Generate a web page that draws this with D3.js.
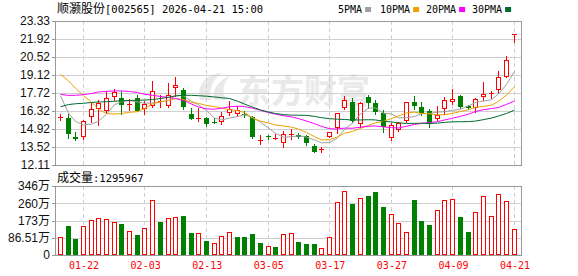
<!DOCTYPE html>
<html><head><meta charset="utf-8">
<script src="https://cdn.jsdelivr.net/npm/d3@7"></script>
<style>body{margin:0;background:#fff;}svg{display:block;}</style>
</head><body>
<svg id="c" width="578" height="276"></svg>
<script>
const title = "顺灏股份";
const titleCode = "[002565] 2026-04-21 15:00";
const volTitle = "成交量";
const volTitleValue = ":1295967";
const maNames = ["5PMA", "10PMA", "20PMA", "30PMA"];
const dates = ["01-19","01-20","01-21","01-22","01-23","01-26","01-27","01-28","01-29","01-30",
  "02-02","02-03","02-04","02-05","02-06","02-09","02-10","02-11","02-12","02-13",
  "02-24","02-25","02-26","02-27","03-02","03-03","03-04","03-05","03-06","03-09",
  "03-10","03-11","03-12","03-13","03-16","03-17","03-18","03-19","03-20","03-23",
  "03-24","03-25","03-26","03-27","03-30","03-31","04-01","04-02","04-03","04-07",
  "04-08","04-09","04-10","04-13","04-14","04-15","04-16","04-17","04-20","04-21"];
const tickDates = ["01-22","02-03","02-13","03-05","03-17","03-27","04-09","04-21"];
const open  = [15.80,15.75,14.31,14.31,15.83,16.50,16.34,17.38,17.31,16.79,
  17.31,16.47,16.73,17.08,16.73,18.09,17.95,16.06,15.75,15.75,
  15.48,15.48,16.14,16.06,16.08,15.83,13.98,14.34,14.23,13.86,
  14.49,14.41,14.34,13.59,13.33,14.31,15.02,16.53,17.04,15.27,
  17.41,16.92,16.16,14.21,14.81,15.56,17.04,16.63,16.32,15.67,
  16.45,17.04,17.51,16.71,16.53,17.37,17.70,17.95,18.99,22.32];
const high  = [16.08,16.06,14.70,15.62,16.92,17.17,17.88,18.01,17.85,17.29,
  17.56,17.10,18.62,17.56,18.50,18.97,18.11,16.53,16.59,15.87,
  15.80,16.24,17.06,16.67,16.32,15.93,14.41,14.47,14.53,14.76,
  14.88,14.64,14.45,13.73,13.54,14.70,16.16,17.49,17.33,17.04,
  17.56,17.17,16.36,15.42,15.48,17.04,17.49,16.98,16.51,16.67,
  17.43,18.03,17.56,16.82,17.31,18.60,17.91,19.43,20.60,22.32];
const low   = [15.62,14.24,14.06,14.16,15.48,15.23,16.14,17.17,16.11,16.40,
  16.29,16.06,16.63,16.63,16.65,17.49,16.47,15.72,15.54,15.15,
  15.38,15.34,15.97,15.93,15.85,14.24,13.71,14.14,14.10,13.54,
  14.14,14.25,13.67,13.10,13.10,14.30,14.58,16.51,15.46,15.09,
  16.53,16.08,14.70,14.06,14.76,15.48,16.47,16.01,15.07,15.62,
  16.08,16.86,16.59,16.47,16.24,17.14,17.33,17.72,18.97,21.72];
const close = [15.83,14.53,14.16,15.51,16.45,16.94,17.31,17.82,16.75,16.86,
  16.34,16.86,17.88,17.11,17.54,18.34,16.63,15.72,15.80,15.27,
  15.42,15.89,16.45,16.40,15.97,14.33,14.03,14.27,14.25,14.50,
  14.53,14.33,13.80,13.16,13.36,14.66,16.14,17.17,15.51,16.96,
  16.92,16.26,15.09,15.23,15.42,17.00,16.71,16.16,15.32,15.97,
  17.15,17.23,16.65,16.59,17.29,17.68,17.74,18.94,20.29,22.32];
// volume in 万手
const volume = [89,146,79,144.5,175,185,180,165,156,119,
  99,133,275,166,185,190,196,111,109,70,
  59,94,114,89,89,104,60,44,39,104,
  109,65,54,54,37,88,264,319,255,284,
  297,316,240,205,160,114,275,170,150,225,
  275,280,190,116,215,296,195,306,270,129.5967];
const ma5Head  = [17.49,16.16,15.50,15.23];
const ma10Head = [19.18,18.66,18.09,17.51,17.02,16.45,16.12,16.08,16.12];
const ma20Head = [17.62,17.53,17.54,17.59,17.68,17.80,17.85,17.88,17.88,17.84,
  17.76,17.62,17.54,17.45,17.37,17.29,17.14,16.86,16.63];
const ma30Head = [16.65,16.82,16.88,16.92,16.98,17.02,17.04,17.08,17.11,17.14,
  17.15,17.17,17.21,17.29,17.39,17.49,17.54,17.54,17.51,17.47,
  17.41,17.35,17.29,17.08,16.86,16.62,16.40,16.24,16.12];
const priceTicks = [12.11,13.5125,14.915,16.3175,17.72,19.1225,20.525,21.9275,23.33];
const priceTickLabels = ["12.11","13.52","14.92","16.32","17.72","19.12","20.52","21.92","23.33"];
const volTicks = [0,86.51,173.02,259.53,346.04];
const volTickLabels = ["0","86.51万","173万","260万","346万"];

const RED = "#ff0000", GREEN = "#008000";
const maColors = ["#a0a0a0", "#f0a000", "#ff00ff", "#006a30"];
const L = 55, R = 522, PT = 21, PB = 165, VT = 186, VB = 255;
const n = close.length;

const svg = d3.select("#c");
const x = d3.scaleBand().domain(d3.range(n)).range([56.5, 518]);
const px = i => Math.round(x(i) + x.bandwidth() / 2 - 0.5);
const y = d3.scaleLinear().domain([priceTicks[0], priceTicks[priceTicks.length - 1]]).range([PB, PT]);
const vy = d3.scaleLinear().domain([0, volTicks[volTicks.length - 1]]).range([VB, VT]);

// watermark
svg.append("text").attr("x", 238).attr("y", 103)
  .attr("font-family", "Noto Sans CJK SC").attr("font-size", 33).attr("font-weight", "bold")
  .attr("fill", "#e9e9e9").text("东方财富");
svg.append("path")
  .attr("d", "M200,100 C196,86 206,74 222,73 C212,80 208,90 212,100 Z M214,100 C212,90 218,80 230,76 C222,84 222,94 226,100 Z")
  .attr("fill", "#e9e9e9");

// grids
const grid = svg.append("g").attr("shape-rendering", "crispEdges");
priceTicks.slice(1, -1).forEach(v => {
  const yy = Math.round(y(v)) + 0.5;
  grid.append("line").attr("x1", L).attr("x2", R).attr("y1", yy).attr("y2", yy).attr("stroke", "#cfcfcf");
});
volTicks.slice(1, -1).forEach(v => {
  const yy = Math.round(vy(v)) + 0.5;
  grid.append("line").attr("x1", L).attr("x2", R).attr("y1", yy).attr("y2", yy).attr("stroke", "#cfcfcf");
});
tickDates.forEach(d => {
  const i = dates.indexOf(d), xx = px(i) + 0.5;
  [[PT, PB], [VT, VB]].forEach(([a, b]) => grid.append("line").attr("x1", xx).attr("x2", xx)
    .attr("y1", a).attr("y2", b).attr("stroke", "#cfcfcf").attr("stroke-dasharray", "4,3"));
});

// frames
[[PT, PB], [VT, VB]].forEach(([a, b]) => svg.append("rect").attr("x", L + 0.5).attr("y", a + 0.5)
  .attr("width", R - L - 1).attr("height", b - a).attr("fill", "none").attr("stroke", "#999")
  .attr("shape-rendering", "crispEdges"));

// axes
const yAxis = svg.append("g").attr("transform", `translate(${L},0)`)
  .call(d3.axisLeft(y).tickValues(priceTicks).tickSize(3).tickPadding(2).tickFormat((d, i) => priceTickLabels[i]));
const vAxis = svg.append("g").attr("transform", `translate(${L},0)`)
  .call(d3.axisLeft(vy).tickValues(volTicks).tickSize(3).tickPadding(2).tickFormat((d, i) => volTickLabels[i]));
[yAxis, vAxis].forEach(g => {
  g.select(".domain").remove();
  g.selectAll(".tick line").attr("stroke", "#999").attr("shape-rendering", "crispEdges");
  g.selectAll("text").attr("font-family", "Liberation Sans, Noto Sans CJK SC").attr("font-size", 12).attr("fill", "#111");
});
const xAxis = svg.append("g").attr("transform", `translate(0,${VB})`)
  .call(d3.axisBottom(d3.scalePoint().domain(dates).range([px(0) + 0.5, px(n - 1) + 0.5]))
    .tickValues(tickDates).tickSize(0).tickPadding(7));
xAxis.select(".domain").remove();
xAxis.selectAll("text").attr("font-family", "DejaVu Sans Mono").attr("font-size", 10).attr("fill", RED);

// volume bars
const vg = svg.append("g").attr("shape-rendering", "crispEdges");
volume.forEach((v, i) => {
  const up = i === 0 ? close[i] >= open[i] : close[i] >= close[i - 1];
  const p = px(i), top = Math.round(vy(v));
  if (up) vg.append("rect").attr("x", p - 1.5).attr("y", top + 0.5).attr("width", 4)
    .attr("height", VB - top - 1).attr("fill", "#fff").attr("stroke", RED);
  else vg.append("rect").attr("x", p - 2).attr("y", top).attr("width", 5)
    .attr("height", VB - top).attr("fill", GREEN);
});

// moving averages
function ma(head, k) {
  return close.map((c, i) => i < head.length ? head[i] : d3.mean(close.slice(i - k + 1, i + 1)));
}
const mas = [ma(ma5Head, 5), ma(ma10Head, 10), ma(ma20Head, 20), ma(ma30Head, 30)];

// candles
const cg = svg.append("g").attr("shape-rendering", "crispEdges");
close.forEach((c, i) => {
  const o = open[i], up = c >= o, col = up ? RED : GREEN, p = px(i);
  const yt = Math.round(y(Math.max(o, c))), yb = Math.round(y(Math.min(o, c)));
  cg.append("line").attr("x1", p + 0.5).attr("x2", p + 0.5)
    .attr("y1", Math.round(y(high[i]))).attr("y2", Math.round(y(low[i])) + 1).attr("stroke", col);
  if (yb - yt <= 1) {
    cg.append("rect").attr("x", p - 2).attr("y", yt).attr("width", 5).attr("height", 1).attr("fill", col);
  } else if (up) {
    cg.append("rect").attr("x", p - 1.5).attr("y", yt + 0.5).attr("width", 4).attr("height", yb - yt - 1)
      .attr("fill", "#fff").attr("stroke", col);
  } else {
    cg.append("rect").attr("x", p - 2).attr("y", yt).attr("width", 5).attr("height", yb - yt).attr("fill", col);
  }
});

const line = d3.line().x((d, i) => px(i) + 0.5).y(d => y(d));
mas.forEach((m, k) => svg.append("path").attr("d", line(m)).attr("fill", "none")
  .attr("stroke", maColors[k]).attr("stroke-width", 1));

// titles
const t = svg.append("text").attr("x", 57).attr("y", 13).attr("fill", "#000");
t.append("tspan").attr("font-family", "Noto Sans CJK SC").attr("font-size", 12).text(title);
t.append("tspan").attr("font-family", "DejaVu Sans Mono").attr("font-size", 10.5).text(titleCode);
const vt = svg.append("text").attr("x", 57).attr("y", 182).attr("fill", "#000");
vt.append("tspan").attr("font-family", "Noto Sans CJK SC").attr("font-size", 12).text(volTitle);
vt.append("tspan").attr("font-family", "DejaVu Sans Mono").attr("font-size", 10.5).text(volTitleValue);

// legend
const legendX = [338, 380, 426, 472];
maNames.forEach((name, k) => {
  const tx = svg.append("text").attr("x", legendX[k]).attr("y", 13)
    .attr("font-family", "DejaVu Sans Mono").attr("font-size", 10).attr("fill", "#000").text(name);
  const w = tx.node().getComputedTextLength();
  svg.append("rect").attr("x", legendX[k] + w + 3).attr("y", 7).attr("width", 6).attr("height", 5)
    .attr("fill", maColors[k]);
});
</script>
</body></html>
